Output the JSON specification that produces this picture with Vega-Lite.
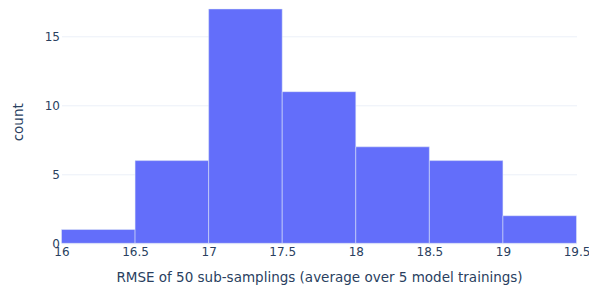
{
  "$schema": "https://vega.github.io/schema/vega-lite/v6.json",
  "autosize": {"type": "none"},
  "width": 515,
  "height": 243,
  "padding": {"left": 61.5, "top": 0.3, "right": 12.5, "bottom": 47.7},
  "background": "white",
  "config": {
    "view": {"stroke": null},
    "font": "DejaVu Sans",
    "axis": {
      "labelFont": "DejaVu Sans",
      "titleFont": "DejaVu Sans",
      "labelColor": "#2a3f5f",
      "titleColor": "#2a3f5f",
      "labelFontSize": 12,
      "titleFontSize": 13.5,
      "titleFontWeight": "normal",
      "domain": false,
      "ticks": false
    }
  },
  "data": {
    "values": [
      {"bin_start": 16.0, "bin_end": 16.5, "count": 1},
      {"bin_start": 16.5, "bin_end": 17.0, "count": 6},
      {"bin_start": 17.0, "bin_end": 17.5, "count": 17},
      {"bin_start": 17.5, "bin_end": 18.0, "count": 11},
      {"bin_start": 18.0, "bin_end": 18.5, "count": 7},
      {"bin_start": 18.5, "bin_end": 19.0, "count": 6},
      {"bin_start": 19.0, "bin_end": 19.5, "count": 2}
    ]
  },
  "mark": {"type": "bar", "color": "#636efa", "stroke": "#E5ECF6", "strokeWidth": 0.5, "orient": "vertical"},
  "encoding": {
    "x": {
      "field": "bin_start",
      "type": "quantitative",
      "scale": {"domain": [16, 19.5], "nice": false, "zero": false, "padding": 0},
      "axis": {
        "values": [16, 16.5, 17, 17.5, 18, 18.5, 19, 19.5],
        "format": "~g",
        "grid": false,
        "labelPadding": 3,
        "labelFlush": false,
        "title": "RMSE of 50 sub-samplings (average over 5 model trainings)",
        "titleX": 257.5,
        "titleY": 34,
        "titleBaseline": "middle",
        "titleAlign": "center"
      }
    },
    "x2": {"field": "bin_end"},
    "y": {
      "field": "count",
      "type": "quantitative",
      "scale": {"domain": [0, 17.63], "nice": false, "padding": 0},
      "axis": {
        "values": [0, 5, 10, 15],
        "grid": true,
        "gridColor": "#ebf0f8",
        "gridWidth": 1,
        "labelPadding": 2,
        "title": "count",
        "titleAngle": -90,
        "titleX": -43,
        "titleY": 121.5,
        "titleBaseline": "middle",
        "titleAlign": "center"
      }
    },
    "y2": {"datum": 0}
  }
}
